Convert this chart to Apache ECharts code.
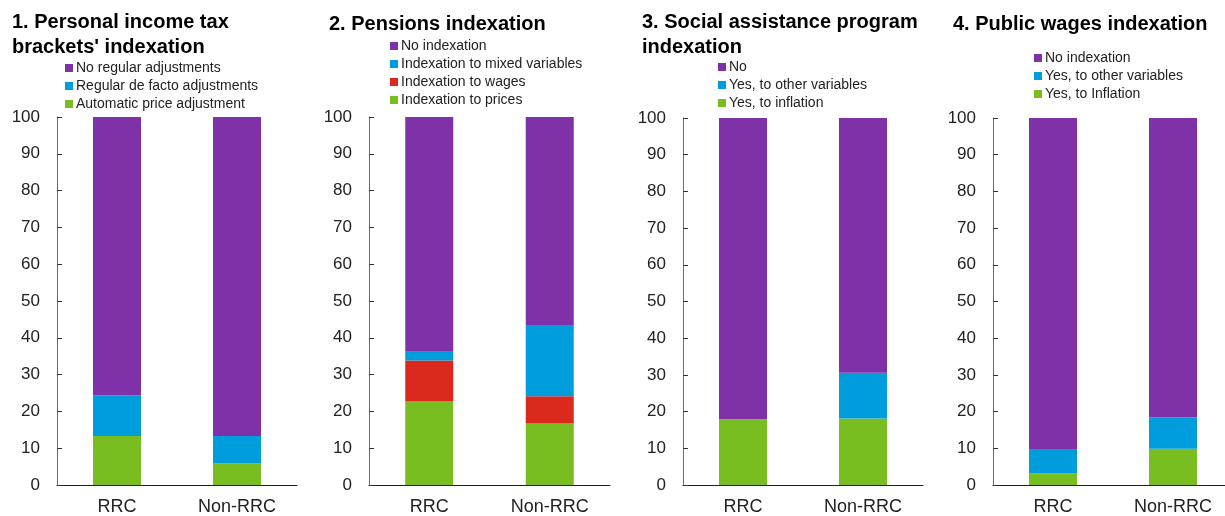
<!DOCTYPE html>
<html><head><meta charset="utf-8">
<script src="https://cdn.jsdelivr.net/npm/echarts@6/dist/echarts.min.js"></script>
<style>html,body{margin:0;padding:0;background:#fff;overflow:hidden}#c{width:1240px;height:516px}</style>
</head><body><div id="c"></div>
<script>
const categories = ['RRC', 'Non-RRC'];
const yTicks = [0, 10, 20, 30, 40, 50, 60, 70, 80, 90, 100];

const titles = ["1. Personal income tax\nbrackets' indexation", "2. Pensions indexation", "3. Social assistance program\nindexation", "4. Public wages indexation"];

// Panel 1
const p1Names = ['No regular adjustments', 'Regular de facto adjustments', 'Automatic price adjustment'];
const p1NoRegular = [75.7, 86.7];
const p1DeFacto = [11.0, 7.4];
const p1AutoPrice = [13.3, 5.9];
// Panel 2
const p2Names = ['No indexation', 'Indexation to mixed variables', 'Indexation to wages', 'Indexation to prices'];
const p2NoIndex = [63.8, 56.5];
const p2Mixed = [2.4, 19.4];
const p2Wages = [11.1, 7.4];
const p2Prices = [22.7, 16.7];
// Panel 3
const p3Names = ['No', 'Yes, to other variables', 'Yes, to inflation'];
const p3No = [82.1, 69.4];
const p3Other = [0, 12.5];
const p3Inflation = [17.9, 18.1];
// Panel 4
const p4Names = ['No indexation', 'Yes, to other variables', 'Yes, to Inflation'];
const p4No = [90.4, 81.6];
const p4Other = [6.5, 8.5];
const p4Inflation = [3.1, 9.9];

const PURPLE = '#7F32A8', BLUE = '#009DDC', RED = '#DC291E', GREEN = '#78BE20';
const FONT = 'Liberation Sans, Arial, sans-serif';

const grids = [
  {left: 57, top: 117, width: 240, height: 368},
  {left: 369, top: 117, width: 241, height: 370},
  {left: 683, top: 118, width: 240, height: 368},
  {left: 993, top: 118, width: 240, height: 368}
];
const titlePos = [{left: 12, top: 10}, {left: 329, top: 12}, {left: 642, top: 10}, {left: 953, top: 12}];
const legendPos = [{left: 65, top: 61}, {left: 390, top: 39}, {left: 718, top: 60}, {left: 1034, top: 51}];

const panels = [
  {names: p1Names, data: [p1NoRegular, p1DeFacto, p1AutoPrice], colors: [PURPLE, BLUE, GREEN]},
  {names: p2Names, data: [p2NoIndex, p2Mixed, p2Wages, p2Prices], colors: [PURPLE, BLUE, RED, GREEN]},
  {names: p3Names, data: [p3No, p3Other, p3Inflation], colors: [PURPLE, BLUE, GREEN]},
  {names: p4Names, data: [p4No, p4Other, p4Inflation], colors: [PURPLE, BLUE, GREEN]}
];

const option = {
  animation: false,
  backgroundColor: '#fff',
  textStyle: {fontFamily: FONT},
  title: titles.map((t, i) => ({
    text: t, left: titlePos[i].left, top: titlePos[i].top, padding: 0,
    textStyle: {fontFamily: FONT, fontSize: 20, fontWeight: 'bold', color: '#000', lineHeight: 25}
  })),
  legend: panels.map((p, i) => ({
    orient: 'vertical', left: legendPos[i].left, top: legendPos[i].top, padding: 0,
    itemWidth: 8, itemHeight: 8, itemGap: 4, icon: 'rect',
    data: p.names.map((n, k) => ({name: n, itemStyle: {color: p.colors[k]}})),
    textStyle: {fontFamily: FONT, fontSize: 14, color: '#222', lineHeight: 14, padding: [0, 0, 0, -2]},
    selectedMode: false
  })),
  grid: grids,
  xAxis: grids.map((g, i) => ({
    type: 'category', gridIndex: i, data: categories,
    axisLine: {lineStyle: {color: '#222', width: 1}},
    axisTick: {show: false},
    axisLabel: {fontFamily: FONT, fontSize: 18, color: '#222', margin: 13}
  })),
  yAxis: grids.map((g, i) => ({
    type: 'value', gridIndex: i, min: 0, max: 100, interval: 10,
    axisLine: {show: true, lineStyle: {color: '#6e6e6e', width: 1}},
    axisTick: {show: true, inside: true, length: 5, lineStyle: {color: '#333'}},
    splitLine: {show: false},
    axisLabel: {fontFamily: FONT, fontSize: 17, color: '#222', margin: 17,
      formatter: v => yTicks.includes(v) ? String(v) : ''}
  })),
  series: []
};

panels.forEach((p, i) => {
  for (let k = p.names.length - 1; k >= 0; k--) {
    option.series.push({
      type: 'bar', name: p.names[k], stack: 'p' + i,
      xAxisIndex: i, yAxisIndex: i,
      data: p.data[k], barWidth: 48,
      itemStyle: {color: p.colors[k]},
      emphasis: {disabled: true}
    });
  }
});

const chart = echarts.init(document.getElementById('c'), null, {renderer: 'canvas'});
chart.setOption(option);
</script></body></html>
